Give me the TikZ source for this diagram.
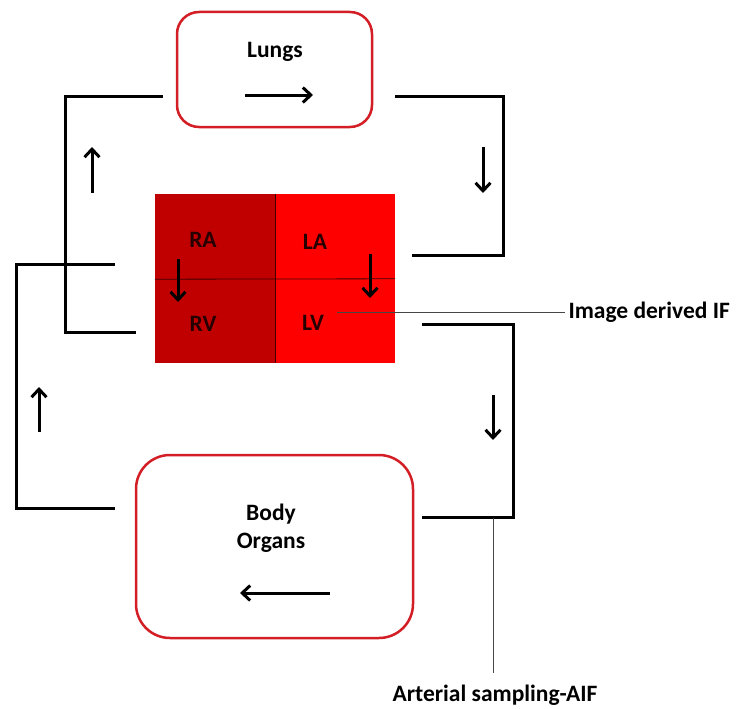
\documentclass[tikz,border=0pt]{standalone}
\usepackage{fontspec}
\setmainfont{Carlito}
\usetikzlibrary{arrows.meta}

\definecolor{boxred}{RGB}{210,30,36}
\definecolor{darkchamber}{RGB}{192,0,0}
\definecolor{lightchamber}{RGB}{255,0,0}

\tikzset{
	organ/.style={draw=boxred, line width=2.5pt, fill=white},
	chamber/.style={minimum width=120pt, inner sep=0pt},
	pipe/.style={line width=3pt},
	flow/.style={line width=3pt, -{Straight Barb[length=8pt, width=15pt]}},
	lead/.style={gray!55!black, line width=1pt},
}

\begin{document}
\begin{tikzpicture}[x=1pt, y=-1pt, font=\fontsize{23.5}{28}\selectfont\bfseries]
	\useasboundingbox (0,0) rectangle (736,709);
	% organs
	\node[organ, rounded corners=22pt, minimum width=195pt, minimum height=115pt] (lungs) at (274.5,69.5) {};
	\node (lungstxt) at (275,52) {Lungs};
	\node[organ, rounded corners=34pt, minimum width=277pt, minimum height=183pt] (body) at (274.5,546.5) {};
	\node[align=center] (bodytxt) at (271,528) {Body\\Organs};
	% heart
	\node[chamber, fill=darkchamber, minimum height=85pt] (ra) at (215,236.5) {};
	\node[chamber, fill=lightchamber, minimum height=85pt] (la) at (335,236.5) {};
	\node[chamber, fill=darkchamber, minimum height=84pt] (rv) at (215,321) {};
	\node[chamber, fill=lightchamber, minimum height=84pt] (lv) at (335,321) {};
	\draw[black!75!red, line width=0.8pt] (ra.north east) -- (rv.south east);
	\draw[black!75!red, line width=0.8pt] (ra.south west) -- (lv.north east);
	\node[text=black!85!red] (ralbl) at (203,240) {RA};
	\node[text=black!85!red] (lalbl) at (315,242) {LA};
	\node[text=black!85!red] (rvlbl) at (203,324) {RV};
	\node[text=black!85!red] (lvlbl) at (313,323) {LV};
	\coordinate (ra1) at (178,259);
	\coordinate (ra2) at (178,302);
	\coordinate (la1) at (370,254);
	\coordinate (la2) at (370,298);
	\draw[flow] (ra1) -- (ra2);
	\draw[flow] (la1) -- (la2);
	% vessels
	\coordinate (pa1) at (163,96);
	\coordinate (pa2) at (136,332);
	\draw[pipe] (pa1) -- (65,96) -- (65,332) -- (pa2);
	\coordinate (vc1) at (115,264);
	\coordinate (vc2) at (115,508);
	\draw[pipe] (vc1) -- (16,264) -- (16,508) -- (vc2);
	\coordinate (pv1) at (395,96);
	\coordinate (pv2) at (412,255);
	\draw[pipe] (pv1) -- (503,96) -- (503,255) -- (pv2);
	\coordinate (ao1) at (422,324);
	\coordinate (ao2) at (422,517);
	\draw[pipe] (ao1) -- (513,324) -- (513,517) -- (ao2);
	% flow direction
	\coordinate (f1a) at (245,95);  \coordinate (f1b) at (313,95);
	\coordinate (f2a) at (92,193);  \coordinate (f2b) at (92,147);
	\coordinate (f3a) at (483,147); \coordinate (f3b) at (483,193);
	\coordinate (f4a) at (493,395); \coordinate (f4b) at (493,440);
	\coordinate (f5a) at (39,432);  \coordinate (f5b) at (39,387);
	\coordinate (f6a) at (330,593); \coordinate (f6b) at (240,593);
	\foreach \a/\b in {f1a/f1b, f2a/f2b, f3a/f3b, f4a/f4b, f5a/f5b, f6a/f6b}
		\draw[flow] (\a) -- (\b);
	% sampling points
	\node[anchor=west] (idif) at (565,312) {Image derived IF};
	\coordinate (lvtap) at (337,312);
	\draw[lead] (lvtap) -- (idif.west);
	\node (aif) at (495,695) {Arterial sampling-AIF};
	\coordinate (aotap) at (493,518);
	\coordinate (aoend) at (493,673);
	\draw[lead] (aotap) -- (aoend);
\end{tikzpicture}
\end{document}
